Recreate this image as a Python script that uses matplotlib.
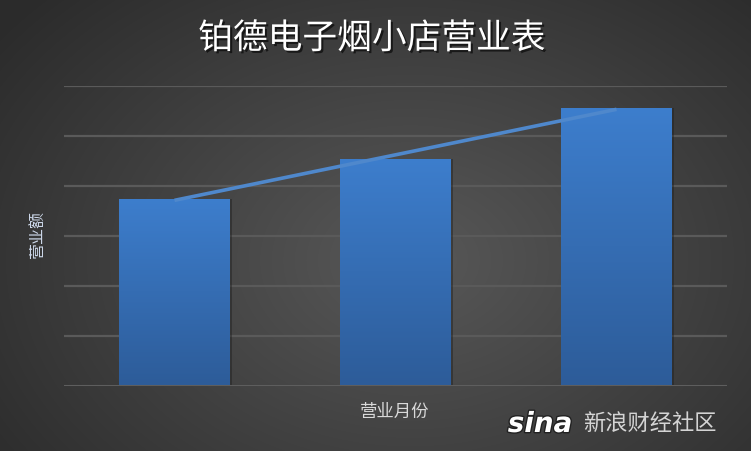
import matplotlib
matplotlib.use("Agg")
import matplotlib.pyplot as plt
import matplotlib.patheffects as pe
import numpy as np

plt.rcParams['font.family'] = ['Noto Sans CJK SC', 'DejaVu Sans']

# data (no tick labels, units are gridline steps)
months = ["一月", "二月", "三月"]
sales = [3.74, 4.54, 5.56]
y_ticks = [0, 1, 2, 3, 4, 5, 6]

TITLE = "铂德电子烟小店营业表"
XLABEL = "营业月份"
YLABEL = "营业额"

fig = plt.figure(figsize=(7.51, 4.51), dpi=100)

# radial gradient background
bg = fig.add_axes([0, 0, 1, 1], zorder=0)
yy, xx = np.mgrid[0:451, 0:751]
r = np.sqrt(((xx - 410) / 520.0) ** 2 + ((yy - 260) / 380.0) ** 2)
r = np.clip(r, 0, 1)
lo, hi = np.array([0x2b, 0x2b, 0x2b]) / 255, np.array([0x58, 0x58, 0x58]) / 255
img = hi[None, None, :] * (1 - r[..., None]) + lo[None, None, :] * r[..., None]
bg.imshow(img, aspect="auto", extent=[0, 1, 0, 1], origin="upper")
bg.set_axis_off()

ax = fig.add_axes([64 / 751, (451 - 385.5) / 451, 663 / 751, 300 / 451], zorder=1)
ax.patch.set_alpha(0)
x = np.arange(len(months))
ax.set_xlim(-0.5, len(months) - 0.5)
ax.set_ylim(0, 6)

for t in y_ticks[1:]:
    ax.axhline(t, color="#5a5a5a", lw=1.6, zorder=1)
ax.axhline(0, color="#5e5e5e", lw=2.2, zorder=4)

# bar shadows
ax.bar(x + 0.012, sales, width=0.5, color="#1f1f1f", alpha=0.45, zorder=2)
bars = ax.bar(x, sales, width=0.5, color="#3a78c4", zorder=3)
grad = np.linspace(0, 1, 256)[:, None]
top_c, bot_c = np.array([0x3d, 0x7e, 0xcd]) / 255, np.array([0x2d, 0x5c, 0x99]) / 255
gimg = top_c[None, None, :] * (1 - grad[..., None]) + bot_c[None, None, :] * grad[..., None]
for b in bars:
    x0, w, h = b.get_x(), b.get_width(), b.get_height()
    im = ax.imshow(gimg, aspect="auto", extent=[x0, x0 + w, 0, h], zorder=3, origin="upper")
    im.set_clip_path(b)

# linear trend line
k, c = np.polyfit(x, sales, 1)
ax.plot(x, k * x + c, color="#4f88cc", lw=2.6, zorder=5, solid_capstyle="butt")

ax.set_xticks([])
ax.set_yticks([])
for s in ax.spines.values():
    s.set_visible(False)

shadow = [pe.withSimplePatchShadow(offset=(1.5, -1.5), shadow_rgbFace="black", alpha=0.6)]
fig.text(372 / 751, 1 - 39 / 451, TITLE, ha="center", va="center", fontsize=25,
         color="white", path_effects=shadow)
fig.text(395 / 751, 1 - 412 / 451, XLABEL, ha="center", va="center", fontsize=12.5,
         color="#d9d9d9")
fig.text(38 / 751, 1 - 235 / 451, YLABEL, ha="center", va="center", fontsize=11.5,
         rotation=90, color="#cdd8ea")

# watermark
fig.text(540 / 751, 1 - 424 / 451, "sina", ha="center", va="center", fontsize=20,
         color="white", fontweight="bold", style="italic", family="DejaVu Sans",
         path_effects=[pe.withStroke(linewidth=2, foreground="#222222")])
fig.text(650 / 751, 1 - 423 / 451, "新浪财经社区", ha="center", va="center", fontsize=16,
         color="#e6e6e6", alpha=0.9)

fig.savefig("out.png", dpi=100)
